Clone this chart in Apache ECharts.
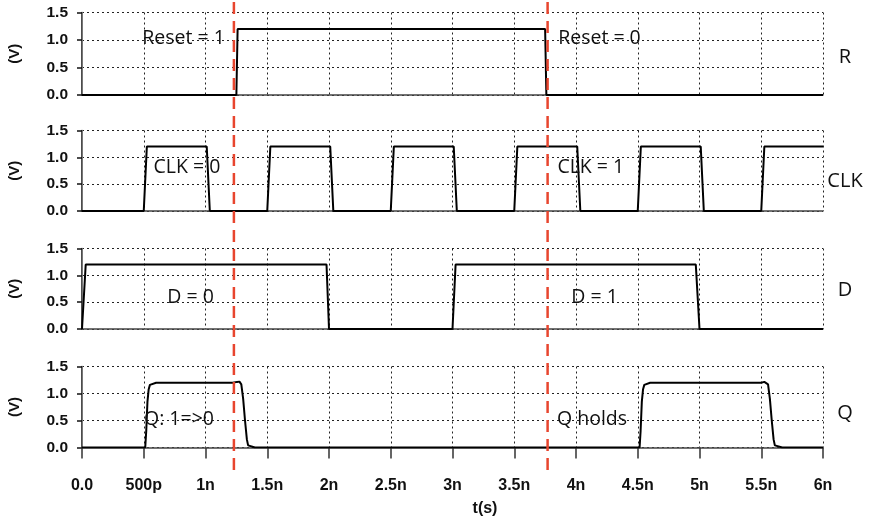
<!DOCTYPE html>
<html>
<head>
<meta charset="utf-8">
<script src="https://cdn.jsdelivr.net/npm/echarts@6/dist/echarts.min.js"></script>
<style>html,body{margin:0;padding:0;background:#fff}#c{width:869px;height:523px}</style>
</head>
<body>
<div id="c"></div>
<script>
// time in ns, voltage in V
var R_WAVE = [[0,0],[1.25,0],[1.26,1.2],[3.75,1.2],[3.76,0],[6,0]];
var CLK_WAVE = [[0,0],[0.5,0],[0.525,1.2],[1.01,1.2],[1.035,0],[1.5,0],[1.525,1.2],[2.01,1.2],[2.035,0],
  [2.5,0],[2.525,1.2],[3.01,1.2],[3.035,0],[3.5,0],[3.525,1.2],[4.01,1.2],[4.035,0],
  [4.5,0],[4.525,1.2],[5.01,1.2],[5.035,0],[5.5,0],[5.525,1.2],[6,1.2]];
var D_WAVE = [[0,0],[0.03,1.2],[1.98,1.2],[2.0,0],[3.0,0],[3.025,1.2],[4.97,1.2],[5.0,0],[6,0]];
var Q_WAVE = [[0,0],[0.512,0],[0.52,0.3],[0.53,0.85],[0.54,1.08],[0.55,1.16],[0.565,1.19],[0.6,1.2],
  [1.22,1.2],[1.255,1.215],[1.275,1.22],[1.29,1.17],[1.305,0.9],[1.32,0.5],[1.335,0.15],[1.345,0.04],[1.36,0.01],[1.4,0],
  [4.515,0],[4.523,0.3],[4.533,0.85],[4.543,1.08],[4.553,1.16],[4.568,1.19],[4.6,1.2],
  [5.5,1.2],[5.525,1.215],[5.54,1.22],[5.555,1.17],[5.57,0.9],[5.585,0.5],[5.6,0.15],[5.61,0.04],[5.625,0.01],[5.67,0],[6,0]];
var MARKER_TIMES = [1.23, 3.77];
var X_TICK_LABELS = ['0.0','500p','1n','1.5n','2n','2.5n','3n','3.5n','4n','4.5n','5n','5.5n','6n'];
var Y_TICK_LABELS = ['0.0','0.5','1.0','1.5'];
var SIGNAL_NAMES = ['R','CLK','D','Q'];
var ANNOTATIONS = [
  [{name:'Reset = 1', value:[0.822,1.036]},{name:'Reset = 0', value:[4.19,1.036]}],
  [{name:'CLK = 0', value:[0.85,0.82]},{name:'CLK = 1', value:[4.12,0.82]}],
  [{name:'D = 0', value:[0.879,0.58]},{name:'D = 1', value:[4.15,0.58]}],
  [{name:'Q: 1=>0', value:[0.785,0.52]},{name:'Q holds', value:[4.13,0.52]}]
];
var WAVES = [R_WAVE, CLK_WAVE, D_WAVE, Q_WAVE];

var chart = echarts.init(document.getElementById('c'), null, {renderer:'canvas'});
var tops = [12.5, 130.5, 248.5, 366.5];
var heights = [82.5, 80.5, 80.5, 81];
var dotted = {show:true, lineStyle:{color:'#222', width:1, type:[2,3]}};
var grid = [], xAxis = [], yAxis = [], series = [];
for (var i = 0; i < 4; i++) {
  grid.push({left:82, right:46, top:tops[i], height:heights[i], containLabel:false, outerBoundsMode:'none'});
  xAxis.push({gridIndex:i, type:'value', position:'bottom', min:0, max:6, interval:0.5, offset:4,
    axisLine:{show:true, lineStyle:{color:'#444', width:1.5}},
    axisTick:{show:false}, axisLabel:{show:false}, splitLine:dotted});
  yAxis.push({gridIndex:i, type:'value', position:'left', min:0, max:1.5, interval:0.5, offset:5,
    name:'(V)', nameLocation:'middle', nameRotate:90, nameGap:55,
    nameTextStyle:{fontFamily:'Liberation Sans', fontWeight:'bold', fontSize:15, color:'#111'},
    axisLine:{show:true, lineStyle:{color:'#111', width:1.5}},
    axisTick:{show:true, length:5, lineStyle:{color:'#111', width:1.5}},
    axisLabel:{show:true, margin:9, fontFamily:'Liberation Sans', fontWeight:'bold', fontSize:15.5, color:'#111',
      formatter:function(v){ return Y_TICK_LABELS[Math.round(v/0.5)]; }},
    splitLine:dotted});
}
// border y axes (left edge of each plot)
for (var i = 0; i < 4; i++) {
  yAxis.push({gridIndex:i, type:'value', position:'left', min:0, max:1.5, offset:0,
    axisLine:{show:true, lineStyle:{color:'#777', width:1}},
    axisTick:{show:false}, axisLabel:{show:false}, splitLine:{show:false}});
}
// bottom time axis with ticks and labels (xAxis index 4)
xAxis.push({gridIndex:3, type:'value', min:0, max:6, interval:0.5, offset:10, position:'bottom',
  axisLine:{show:false}, axisTick:{show:true, length:11, lineStyle:{color:'#333', width:1.5}},
  axisLabel:{show:true, margin:20, fontFamily:'Liberation Sans', fontWeight:'bold', fontSize:16, color:'#111',
    formatter:function(v){ return X_TICK_LABELS[Math.round(v/0.5)]; }},
  splitLine:{show:false}});
// overlay grid for marker lines
grid.push({left:82, right:46, top:0, height:470, containLabel:false, outerBoundsMode:'none'});
xAxis.push({gridIndex:4, type:'value', min:0, max:6, show:false});
yAxis.push({gridIndex:4, type:'value', min:0, max:1, show:false});

for (var i = 0; i < 4; i++) {
  series.push({type:'line', xAxisIndex:i, yAxisIndex:i, data:WAVES[i], showSymbol:false, symbol:'none',
    lineStyle:{color:'#000', width:2}, z:3, animation:false});
  series.push({type:'scatter', xAxisIndex:i, yAxisIndex:i, data:ANNOTATIONS[i], symbolSize:1,
    itemStyle:{color:'rgba(0,0,0,0)', opacity:1}, z:4, animation:false, silent:true,
    label:{show:true, position:'inside', formatter:function(p){return p.name;}, opacity:1,
      textBorderWidth:0, fontFamily:'Open Sans', fontSize:19.5, color:'#111'}});
}
MARKER_TIMES.forEach(function(t){
  series.push({type:'line', xAxisIndex:5, yAxisIndex:8, data:[[t,0],[t,1]], showSymbol:false, symbol:'none',
    lineStyle:{color:'#e8452e', width:2.5, type:[12,7]}, z:10, animation:false});
});

var rightY = [57, 181, 290, 413];
var graphic = SIGNAL_NAMES.map(function(n, i){
  return {type:'text', x:845, y:rightY[i],
    style:{text:n, fontFamily:'Open Sans', fontSize:20, fill:'#111', textAlign:'center', textVerticalAlign:'middle'}};
});
graphic.push({type:'text', x:485, y:509, style:{text:'t(s)', fontFamily:'Liberation Sans', fontWeight:'bold',
  fontSize:16, fill:'#111', textAlign:'center', textVerticalAlign:'middle'}});

chart.setOption({animation:false, backgroundColor:'#fff', grid:grid, xAxis:xAxis, yAxis:yAxis, series:series, graphic:graphic});
</script>
</body>
</html>
